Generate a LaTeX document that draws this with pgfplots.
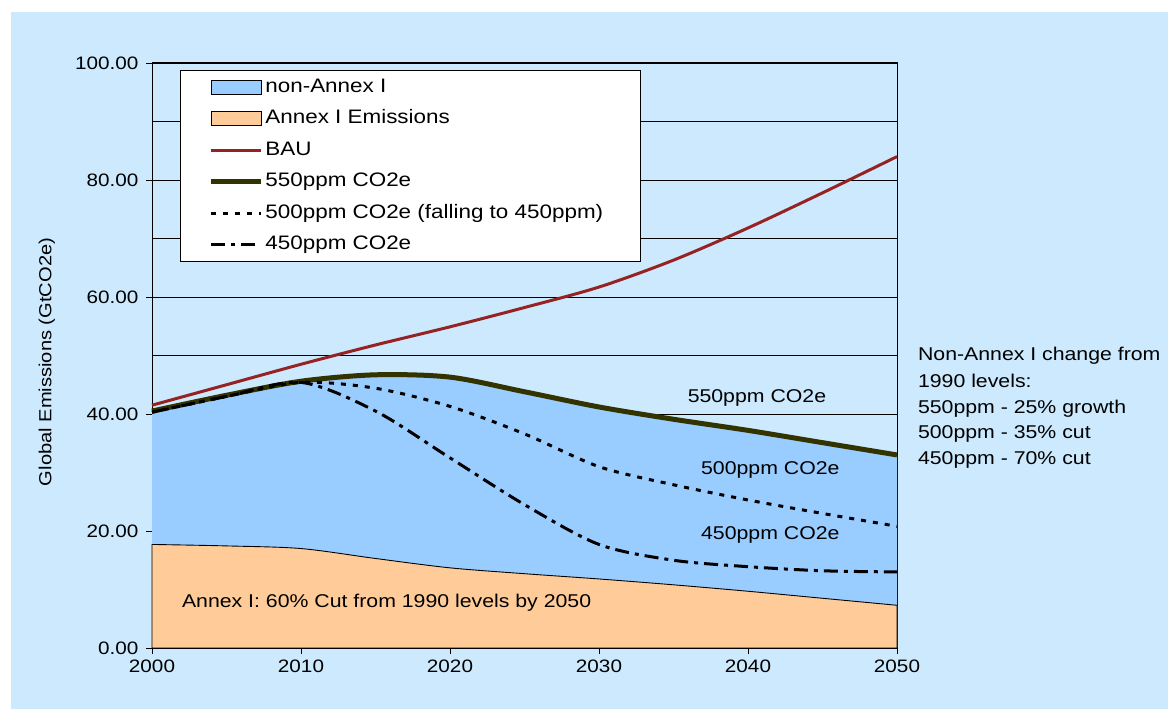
\documentclass[border=0pt]{standalone}
\usepackage{fontspec}
\setmainfont{Liberation Sans}[FakeStretch=1.15]
\usepackage{pgfplots}
\pgfplotsset{compat=1.18}

\definecolor{bgblue}{RGB}{204,233,253}
\definecolor{nablue}{RGB}{153,204,255}
\definecolor{aorange}{RGB}{255,204,153}
\definecolor{baured}{RGB}{150,35,35}
\definecolor{olive}{RGB}{51,51,0}

\newcommand{\fs}[1]{\fontsize{#1}{#1}\selectfont}

\begin{document}
\begin{tikzpicture}
\path[use as bounding box] (0,0) rectangle (1168pt,709pt);
\fill[white] (0,0) rectangle (1168pt,709pt);
\fill[bgblue] (11pt,0) rectangle (1168pt,697pt);
\begin{axis}[at={(152pt,61pt)}, anchor=south west,
	scale only axis, width=745pt, height=585pt,
	xmin=2000, xmax=2050, ymin=0, ymax=100,
	xtick={2000,2010,...,2050},
	ytick={0,20,...,100},
	minor ytick={10,30,...,90},
	ymajorgrids, yminorgrids,
	grid style={black, line width=0.8pt},
	minor grid style={black, line width=0.8pt},
	axis line style={black, line width=1pt},
	tick align=outside, major tick length=6pt, minor tick length=0pt,
	tick style={black, line width=0.8pt},
	xtick pos=bottom, ytick pos=left,
	ticklabel style={font=\fs{18}},
	xticklabel style={yshift=-2pt, /pgf/number format/1000 sep={}, /pgf/number format/assume math mode=true},
	yticklabel style={xshift=-4pt, /pgf/number format/fixed, /pgf/number format/fixed zerofill,
		/pgf/number format/precision=2, /pgf/number format/assume math mode=true},
	ylabel={Global Emissions (GtCO2e)},
	ylabel style={at={(axis description cs:-0.141,0.489)}, anchor=center, font=\fs{17.5}},
	clip=false,
	no markers,
	legend cell align=left,
	legend style={at={(axis description cs:0.0376,0.988)}, anchor=north west,
		fill=white, draw=black, line width=0.8pt,
		inner xsep=28pt, inner ysep=6pt, row sep=9.4pt,
		font=\fs{19.5},
		nodes={inner sep=2pt, text height=14pt, text depth=4pt}},
	myarea/.style={legend image code/.code={\draw[##1, draw=black, line width=0.8pt] (0pt,-7pt) rectangle (50pt,7pt);}},
	myline/.style={legend image code/.code={\draw[##1] (0pt,0pt) -- (50pt,0pt);}},
]

% non-Annex I (stacked up to the 550ppm total)
\addplot[fill=nablue, draw=none, smooth, myarea] coordinates {
	(2000,40.5) (2005,43.2) (2010,45.6) (2015,46.7) (2020,46.3) (2025,43.8)
	(2030,41.2) (2035,39.1) (2040,37.2) (2045,35.1) (2050,33.0)} \closedcycle;
\addlegendentry{\makebox[345pt][l]{non-Annex I}}

% Annex I
\addplot[fill=aorange, draw=black, line width=0.9pt, smooth, myarea] coordinates {
	(2000,17.7) (2005,17.45) (2010,17.0) (2015,15.3) (2020,13.7) (2025,12.7)
	(2030,11.8) (2035,10.8) (2040,9.7) (2045,8.5) (2050,7.3)} \closedcycle;
\addlegendentry{Annex I Emissions}

% BAU
\addplot[baured, line width=3pt, smooth, myline] coordinates {
	(2000,41.5) (2005,45.0) (2010,48.5) (2015,51.8) (2020,54.9) (2025,58.2)
	(2030,61.7) (2035,66.3) (2040,71.8) (2045,77.8) (2050,84.0)};
\addlegendentry{BAU}

% 550ppm
\addplot[olive, line width=5pt, smooth, myline] coordinates {
	(2000,40.5) (2005,43.2) (2010,45.6) (2015,46.7) (2020,46.3) (2025,43.8)
	(2030,41.2) (2035,39.1) (2040,37.2) (2045,35.1) (2050,33.0)};
\addlegendentry{550ppm CO2e}

% 500ppm
\addplot[black, line width=3pt, dash pattern=on 5pt off 7pt, smooth, myline] coordinates {
	(2000,40.3) (2005,43.0) (2010,45.4) (2015,44.4) (2020,41.3) (2025,36.6)
	(2030,31.0) (2035,27.9) (2040,25.3) (2045,23.0) (2050,20.8)};
\addlegendentry{500ppm CO2e (falling to 450ppm)}

% 450ppm
\addplot[black, line width=3pt, dash pattern=on 14pt off 6pt on 4pt off 6pt, smooth, myline] coordinates {
	(2000,40.3) (2005,43.0) (2010,45.4) (2015,40.5) (2020,32.5) (2025,24.5)
	(2030,17.7) (2035,15.0) (2040,13.9) (2045,13.2) (2050,13.0)};
\addlegendentry{450ppm CO2e}

\node[font=\fs{18.5}] at (axis cs:2040.6,42.7) {550ppm CO2e};
\node[font=\fs{18.5}] at (axis cs:2041.5,30.4) {500ppm CO2e};
\node[font=\fs{18.5}] at (axis cs:2041.5,19.3) {450ppm CO2e};
\node[font=\fs{18.5}, anchor=west, inner sep=0pt] at (axis cs:2002.0,7.7) {Annex I: 60\% Cut from 1990 levels by 2050};

\node[font=\fs{18.5}, anchor=west, inner sep=0pt] at (axis cs:2051.4,49.9) {Non-Annex I change from};
\node[font=\fs{18.5}, anchor=west, inner sep=0pt] at (axis cs:2051.4,45.6) {1990 levels:};
\node[font=\fs{18.5}, anchor=west, inner sep=0pt] at (axis cs:2051.4,40.9) {550ppm - 25\% growth};
\node[font=\fs{18.5}, anchor=west, inner sep=0pt] at (axis cs:2051.4,36.6) {500ppm - 35\% cut};
\node[font=\fs{18.5}, anchor=west, inner sep=0pt] at (axis cs:2051.4,32.1) {450ppm - 70\% cut};
\end{axis}
\end{tikzpicture}
\end{document}
